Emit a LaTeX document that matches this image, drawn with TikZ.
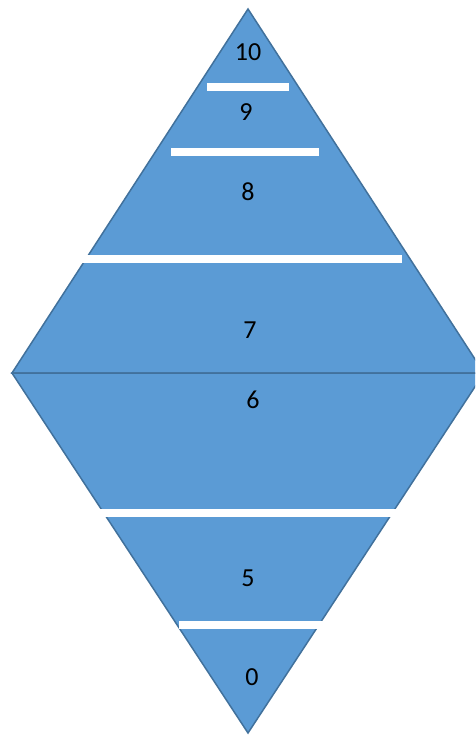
\documentclass[tikz,border=0pt]{standalone}
\usepackage{fontspec}
\setmainfont{Carlito}
\definecolor{fillblue}{HTML}{5B9BD5}
\definecolor{edgeblue}{HTML}{41719C}
\begin{document}
\begin{tikzpicture}[x=1pt,y=-1pt,
  tri/.style={fill=fillblue,draw=edgeblue,line width=1.5pt,line join=miter},
  bar/.style={fill=white,draw=none},
  lbl/.style={font=\fontsize{26}{30}\selectfont,text=black,inner sep=0pt}]
\useasboundingbox (0,0) rectangle (475,735);
\begin{scope}
\clip (0,0) rectangle (475,735);
\path[tri] (248,9) -- (484,373) -- (12,373) -- cycle;
\path[tri] (12,373) -- (484,373) -- (248,733) -- cycle;
\fill[bar] (207,83) rectangle (289,91);
\fill[bar] (171,148) rectangle (319,156);
\fill[bar] (81,255) rectangle (402,263);
\fill[bar] (98,509) rectangle (397,517);
\fill[bar] (179,621) rectangle (325,629);
\end{scope}
\node[lbl] (l10) at (248,52) {10};
\node[lbl] (l9) at (246,112) {9};
\node[lbl] (l8) at (248,192) {8};
\node[lbl] (l7) at (250,330) {7};
\node[lbl] (l6) at (253,400) {6};
\node[lbl] (l5) at (248,578) {5};
\node[lbl] (l0) at (252,677) {0};
\end{tikzpicture}
\end{document}
